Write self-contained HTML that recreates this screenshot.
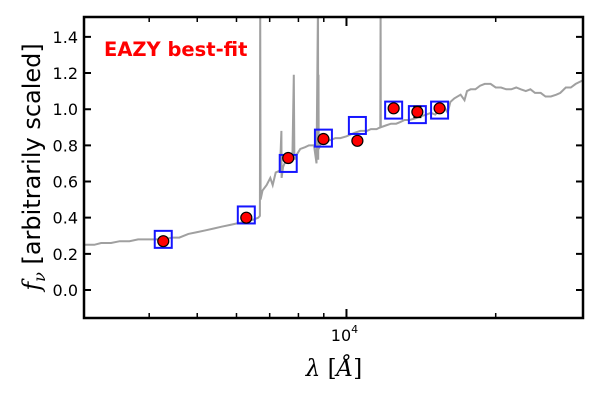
<!DOCTYPE html>
<html><head><meta charset="utf-8"><style>
html,body{margin:0;padding:0;background:#fff;}
svg{display:block;font-family:"DejaVu Sans","Liberation Sans",sans-serif;}
</style></head><body>
<svg id="c" width="600" height="400" viewBox="0 0 600 400" xmlns="http://www.w3.org/2000/svg">
<g id="plot"></g>
</svg>
<script>
const specWave=[2955,3100,3200,3350,3490,3650,3800,4000,4270,4450,4600,4800,5000,5200,5400,5600,5830,6050,6300,6500,6640,6690,6700,6710,6770,6900,7020,7100,7200,7340,7390,7400,7450,7500,7640,7780,7830,7850,7900,8070,8250,8400,8600,8700,8760,8770,8780,8790,8850,8860,8870,8880,9050,9300,9500,9720,10000,10200,10400,10670,11000,11200,11500,11700,11720,11730,12000,12300,12600,12850,13100,13400,13800,14100,14500,14800,15100,15480,15700,16000,16200,16500,16990,17300,17500,17800,18200,18600,19000,19530,20000,20500,21000,21500,22000,22470,23000,23500,24000,24650,25200,25850,26500,27000,27700,28350,29000,30000];
const specFlux=[0.25,0.25,0.26,0.26,0.27,0.27,0.28,0.28,0.28,0.29,0.29,0.31,0.32,0.33,0.34,0.35,0.36,0.37,0.38,0.39,0.40,0.41,1.6,0.5,0.55,0.58,0.62,0.58,0.65,0.66,0.88,0.62,0.68,0.70,0.72,0.73,1.19,0.72,0.74,0.78,0.79,0.80,0.80,0.70,1.6,0.72,1.19,0.78,0.80,0.81,0.81,0.82,0.82,0.83,0.84,0.84,0.85,0.86,0.87,0.88,0.88,0.89,0.89,0.90,1.6,0.90,0.91,0.92,0.92,0.93,0.94,0.94,0.95,0.96,0.97,0.98,0.97,1.00,1.02,0.98,1.04,1.06,1.08,1.05,1.10,1.11,1.11,1.13,1.14,1.14,1.12,1.12,1.11,1.11,1.12,1.11,1.10,1.11,1.09,1.09,1.07,1.07,1.08,1.09,1.12,1.12,1.14,1.16];
const obsWave=[4270,6280,7630,8985,10520,12450,13900,15410];
const obsFlux=[0.27,0.40,0.73,0.835,0.825,1.005,0.985,1.005];
const obsErr=[0.01,0.01,0.01,0.015,0.02,0.01,0.03,0.01];
const modelFlux=[0.28,0.415,0.70,0.84,0.91,0.995,0.97,0.995];
const yTicks=[0.0,0.2,0.4,0.6,0.8,1.0,1.2,1.4];
const xMinorTicks=[4000,5000,6000,7000,8000,9000,20000];

const L=84,R=583,T=17,B=318;
const xmin=2955,xmax=30000,ymin=-0.155,ymax=1.51;
const NS="http://www.w3.org/2000/svg";
function X(w){return L+(Math.log10(w)-Math.log10(xmin))/(Math.log10(xmax)-Math.log10(xmin))*(R-L);}
function Y(v){return B-(v-ymin)/(ymax-ymin)*(B-T);}
const g=document.getElementById('plot');
const svg=document.getElementById('c');
function mk(tag,attrs,parent){const e=document.createElementNS(NS,tag);for(const k in attrs)e.setAttribute(k,attrs[k]);(parent||g).appendChild(e);return e;}

const defs=mk('defs',{},svg);
const cp=mk('clipPath',{id:'clip'},defs);
mk('rect',{x:L,y:T,width:R-L,height:B-T},cp);
const dg=mk('g',{'clip-path':'url(#clip)'});

let d='';
specWave.forEach((w,i)=>{d+=(i?'L':'M')+X(w).toFixed(1)+','+Y(specFlux[i]).toFixed(1);});
const sp=mk('path',{d:d,fill:'none',stroke:'#a0a0a0','stroke-width':2},dg);



obsWave.forEach((w,i)=>{
  const s=mk('rect',{x:X(w)-8.5,y:Y(modelFlux[i])-8.5,width:17,height:17,fill:'none',stroke:'#1515ff','stroke-width':2},dg);
  
  
});
obsWave.forEach((w,i)=>{
  const x=X(w);
  const eb=mk('path',{d:`M${x},${Y(obsFlux[i]+obsErr[i])}V${Y(obsFlux[i]-obsErr[i])}M${x-4},${Y(obsFlux[i]+obsErr[i])}H${x+4}M${x-4},${Y(obsFlux[i]-obsErr[i])}H${x+4}`,stroke:'#000','stroke-width':1.5,fill:'none'},dg);
  
  
  const c=mk('circle',{cx:x,cy:Y(obsFlux[i]),r:5.5,fill:'#f00',stroke:'#000','stroke-width':1.2},dg);
  
  
});

yTicks.forEach(v=>{
  const y=Y(v);
  mk('path',{d:`M${L},${y}h7M${R},${y}h-7`,stroke:'#000','stroke-width':2});
  const t=mk('text',{x:L-6,y:y+6,'text-anchor':'end','font-size':16,fill:'#000'});
  t.textContent=v.toFixed(1);
  
  
});
xMinorTicks.forEach(w=>{
  const x=X(w);
  mk('path',{d:`M${x},${B}v-5M${x},${T}v5`,stroke:'#000','stroke-width':1.5});
});
const x4=X(10000);
mk('path',{d:`M${x4},${B}v-9M${x4},${T}v9`,stroke:'#000','stroke-width':2});
const xl=mk('text',{x:x4-2,y:341,'font-size':16,fill:'#000','text-anchor':'middle'});
xl.innerHTML='10<tspan dy="-8" font-size="11">4</tspan>';



const fr=mk('rect',{x:L,y:T,width:R-L,height:B-T,fill:'none',stroke:'#000','stroke-width':2.5});



const lab=mk('text',{x:104,y:56,'font-size':19.5,'font-weight':'bold',fill:'#f00'});
lab.textContent='EAZY best-fit';



const xt=mk('text',{x:334,y:376,'font-size':23,'text-anchor':'middle',fill:'#000','font-family':'"DejaVu Serif","Liberation Serif",serif'});
xt.innerHTML='<tspan font-style="italic">λ</tspan> [<tspan font-style="italic">Å</tspan>]';



const yt=mk('text',{x:0,y:0,'font-size':24,'text-anchor':'middle',fill:'#000',transform:'translate(40,167) rotate(-90)'});
yt.innerHTML='<tspan font-style="italic" font-family="DejaVu Serif,serif">f</tspan><tspan font-style="italic" font-size="16" dy="5" font-family="DejaVu Serif,serif">ν</tspan><tspan dy="-5"> [arbitrarily scaled]</tspan>';


</script>
</body></html>
